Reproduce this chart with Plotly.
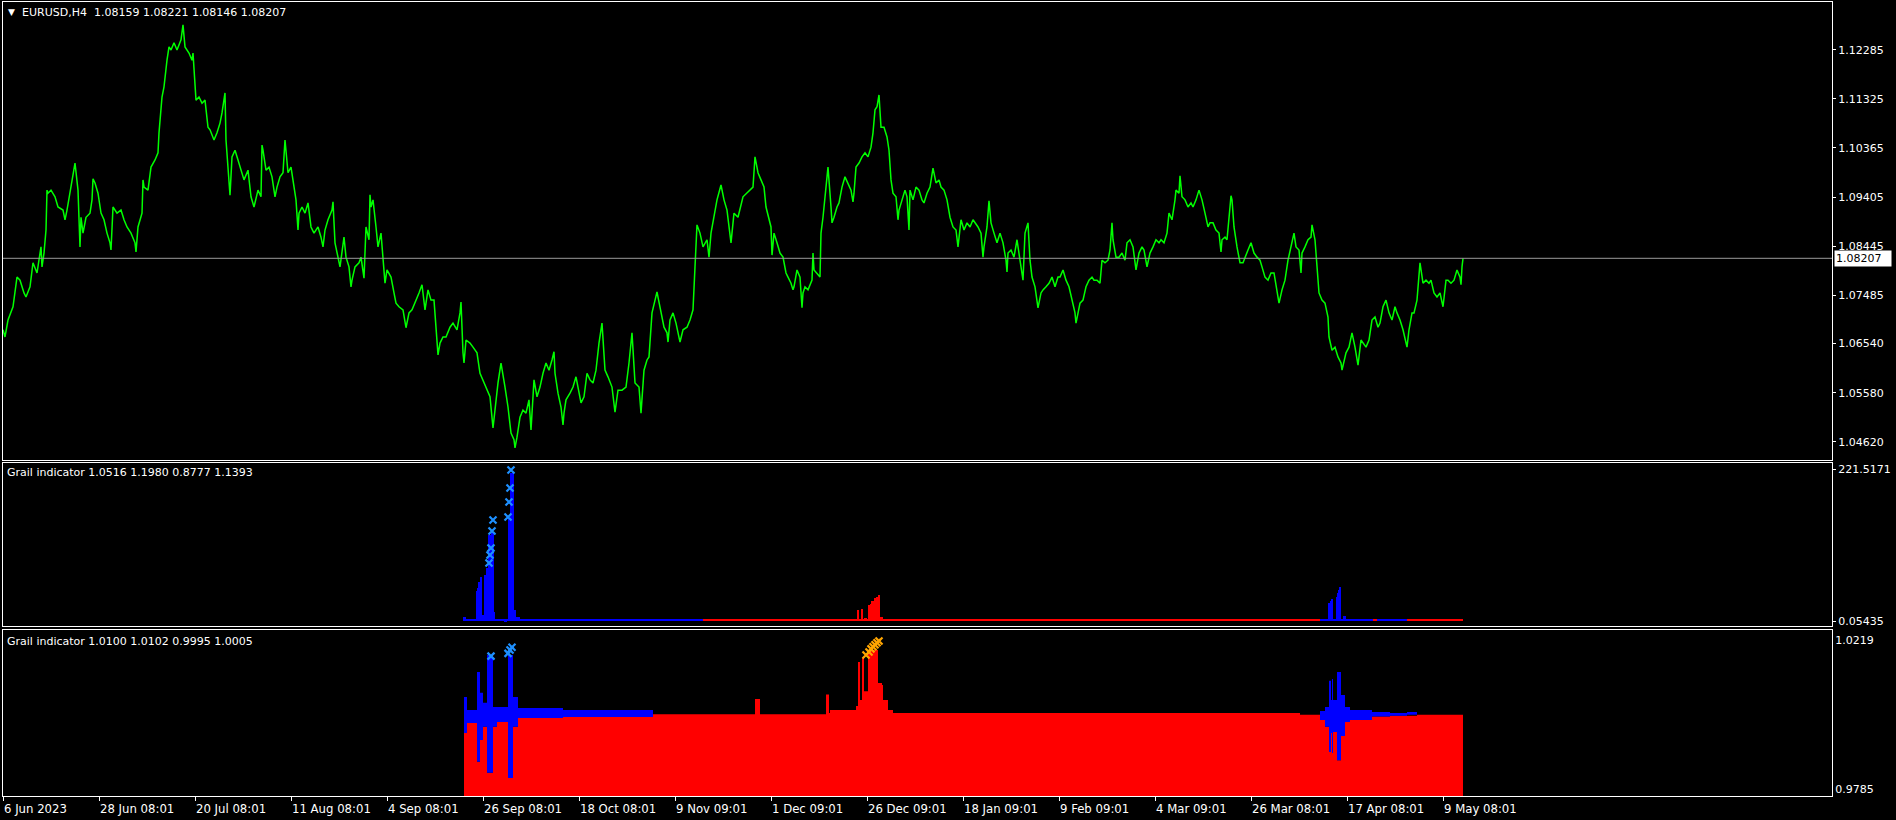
import plotly.graph_objects as go

# ---------------- data ----------------
symbol_header = "EURUSD,H4  1.08159 1.08221 1.08146 1.08207"
ind1_header = "Grail indicator 1.0516 1.1980 0.8777 1.1393"
ind2_header = "Grail indicator 1.0100 1.0102 0.9995 1.0005"
last_price = 1.08207

# bar index (H4 bars) and close prices
price_bar = [0,5,10,14,17,21,23,27,30,34,38,41,43,45,48,52,55,60,64,68,71,72,75,78,80,83,87,89,92,95,98,101,104,107,110,114,118,121,124,128,132,135,139,141,145,148,152,155,156,159,161,164,166,168,171,174,178,180,182,186,189,190,193,196,199,202,205,207,211,214,217,219,222,223,226,229,232,235,238,241,245,248,251,255,258,260,263,266,269,272,274,277,280,282,285,288,291,293,296,299,302,305,308,311,315,318,322,325,329,332,335,337,341,343,346,349,352,356,358,361,363,366,368,370,373,375,378,381,384,388,391,393,396,400,403,406,409,412,416,419,422,425,428,431,434,437,440,443,447,450,454,457,460,463,467,470,474,477,480,483,487,490,493,495,499,502,505,508,511,514,517,520,523,526,528,531,534,537,540,543,546,549,552,555,558,561,563,567,570,573,576,578,581,584,587,590,593,596,599,602,605,609,612,615,619,623,626,629,632,636,638,641,644,646,649,652,655,658,661,664,667,670,673,677,680,684,687,690,692,694,697,700,704,708,711,714,718,721,724,728,731,735,
             740,744,747,750,752,755,758,761,763,766,768,771,774,777,780,783,785,788,791,794,797,800,802,805,809,811,814,817,818,820,823,825,828,831,834,836,839,842,845,848,851,853,856,859,862,865,868,870,872,874,876,878,881,884,886,888,890,893,896,899,902,904,907,910,913,916,919,921,924,927,930,933,936,938,941,944,947,950,953,955,958,961,964,967,970,972,975,978,981,984,986,988,991,994,997,1000,1003,1005,1008,1011,1014,1017,1020,1022,1025,1027,1029,1032,1035,1038,1040,1043,1046,1049,1052,1055,1057,1060,1063,1066,1069,1072,1074,1077,1080,1083,1086,1089,1091,1094,1097,1099,1102,1105,1107,1110,1113,1116,1119,1122,1124,1127,1130,1133,1136,1139,1141,1144,1147,1150,1153,1156,1158,1161,1164,1166,1169,1172,1173,1176,1179,1182,1185,1188,1190,1193,1196,1199,1202,1205,1207,1210,1213,1216,1219,1222,1224,1227,1229,1231,1234,1237,1240,1242,1245,1248,1251,1254,1257,1259,1262,1265,1268,1271,1274,1276,1279,1282,1285,1288,1291,1293,1296,1299,1302,1305,1308,1309,1312,1314,1316,1319,1322,1325,1326,1329,1332,1335,1338,1341,1343,1346,1349,1352,1355,1358,1360,1363,1366,1369,1372,1375,1377,1380,1383,1386,1389,1392,1394,1397,1400,1403,1406,1409,1411,1414,1417,1420,1423,1426,1428,1431,1434,1437,1440,1443,1445,1448,1451,1454,1457,1459,1460]
price_close = [1.0681,1.0700,1.0726,1.0784,1.0778,1.0753,1.0745,1.0765,1.0812,1.0792,1.0843,1.0831,1.0876,1.0948,1.0954,1.0941,1.0921,1.0915,1.0915,1.0960,1.0993,1.1007,1.0954,1.0901,1.0870,1.0901,1.0909,1.0935,1.0968,1.0948,1.0909,1.0896,1.0870,1.0851,1.0921,1.0909,1.0915,1.0896,1.0882,1.0870,1.0851,1.0882,1.0909,1.0960,1.0954,1.0999,1.1013,1.1027,1.1066,1.1136,1.1156,1.1208,1.1234,1.1228,1.1242,1.1228,1.1248,1.1267,1.1234,1.1222,1.1208,1.1222,1.1130,1.1136,1.1124,1.1130,1.1077,1.1072,1.1052,1.1066,1.1085,1.1105,1.1144,1.1052,1.0974,1.1019,1.1032,1.1013,1.0993,1.0974,1.0993,1.0941,1.0921,1.0954,1.0941,1.1032,1.0993,1.0999,1.0980,1.0941,1.0960,1.0980,1.0988,1.1052,1.0988,1.0999,1.0954,1.0935,1.0909,1.0921,1.0909,1.0929,1.0882,1.0870,1.0882,1.0862,1.0876,1.0896,1.0915,1.0851,1.0823,1.0817,1.0862,1.0823,1.0804,1.0778,1.0804,1.0812,1.0823,1.0798,1.0882,1.0857,1.0921,1.0935,1.0882,1.0843,1.0870,1.0784,1.0798,1.0784,1.0753,1.0733,1.0726,1.0720,1.0700,1.0714,1.0720,1.0733,1.0753,1.0739,1.0720,1.0759,1.0739,1.0739,1.0647,1.0655,1.0667,1.0667,1.0686,1.0694,1.0681,1.0714,1.0636,1.0661,1.0655,1.0647,1.0636,1.0596,1.0583,1.0569,1.0550,1.0510,1.0544,1.0577,1.0602,1.0569,1.0530,1.0479,1.0466,1.0471,1.0510,1.0524,1.0518,1.0544,1.0524,1.0583,1.0550,1.0569,1.0596,1.0616,1.0602,1.0622,1.0596,1.0557,1.0530,1.0518,1.0544,1.0557,1.0569,1.0589,1.0557,1.0538,1.0550,1.0596,1.0583,1.0577,1.0602,1.0655,1.0681,1.0602,1.0589,1.0569,1.0538,1.0563,1.0563,1.0569,1.0616,1.0661,1.0577,1.0569,1.0530,1.0602,1.0622,1.0628,1.0714,1.0739,1.0745,1.0714,1.0686,1.0675,1.0700,1.0714,1.0694,1.0667,1.0681,1.0686,1.0700,1.0720,1.0804,1.0876,1.0870,1.0843,1.0857,1.0870,1.0901,1.0935,1.0954,1.0935,1.0915,1.0896,1.0909,1.0901,
               1.0941,1.0948,1.0954,1.0960,1.1007,1.0988,1.0974,1.0960,1.0921,1.0896,1.0882,1.0870,1.0851,1.0831,1.0823,1.0792,1.0784,1.0772,1.0765,1.0798,1.0784,1.0753,1.0765,1.0759,1.0778,1.0798,1.0792,1.0784,1.0870,1.0901,1.0960,1.0999,1.0921,1.0901,1.0921,1.0929,1.0960,1.0980,1.0968,1.0954,1.0948,1.0999,1.1007,1.1019,1.1027,1.1019,1.1038,1.1066,1.1111,1.1117,1.1130,1.1077,1.1077,1.1058,1.1032,1.0974,1.0948,1.0941,1.0915,1.0935,1.0954,1.0941,1.0954,1.0935,1.0960,1.0954,1.0935,1.0929,1.0948,1.0960,1.0988,1.0968,1.0974,1.0960,1.0954,1.0935,1.0901,1.0882,1.0876,1.0862,1.0896,1.0876,1.0890,1.0882,1.0896,1.0890,1.0882,1.0870,1.0843,1.0882,1.0921,1.0890,1.0870,1.0851,1.0870,1.0851,1.0817,1.0831,1.0837,1.0823,1.0857,1.0817,1.0798,1.0870,1.0890,1.0817,1.0784,1.0765,1.0739,1.0753,1.0759,1.0765,1.0772,1.0784,1.0765,1.0784,1.0784,1.0798,1.0778,1.0765,1.0739,1.0714,1.0706,1.0733,1.0739,1.0765,1.0778,1.0784,1.0778,1.0778,1.0772,1.0817,1.0812,1.0817,1.0837,1.0857,1.0823,1.0823,1.0831,1.0817,1.0851,1.0857,1.0843,1.0817,1.0831,1.0843,1.0837,1.0804,1.0831,1.0843,1.0857,1.0851,1.0857,1.0851,1.0870,1.0909,1.0896,1.0935,1.0954,1.0948,1.0941,1.0935,1.0921,1.0929,1.0921,1.0935,1.0954,1.0935,1.0909,1.0882,1.0890,1.0890,1.0876,1.0870,1.0857,1.0862,1.0857,1.0921,1.0935,1.0882,1.0843,1.0812,1.0812,1.0823,1.0837,1.0851,1.0831,1.0823,1.0817,1.0804,1.0784,1.0778,1.0792,1.0792,1.0753,1.0733,1.0759,1.0778,1.0817,1.0843,1.0870,1.0843,1.0837,1.0831,1.0843,1.0857,1.0862,1.0876,1.0857,1.0798,1.0753,1.0739,1.0733,1.0706,1.0667,1.0641,1.0647,1.0628,1.0616,1.0622,1.0636,1.0647,1.0675,1.0647,1.0641,1.0661,1.0655,1.0647,1.0661,1.0700,1.0706,1.0686,1.0694,1.0726,1.0739,1.0714,1.0700,1.0726,1.0714,1.0700,1.0681,1.0655,1.0681,1.0714,1.0714,1.0739,1.0778,1.0772,1.0778,1.0772,1.0778,1.0753,1.0745,1.0753,1.0759,1.0778,1.0778,1.0772,1.0778,1.0798,1.0784,1.0804,1.08207]

# short-lived spikes (wicks of the close line); same bar replaces the value above
spike_bar = [2,39,44,62,77,90,108,133,140,180,227,259,295,320,330,337,348,361,367,382,403,419,435,458,461,490,498,512,528,551,560,599,612,629,638,654,665,677,694,706,718,728,
             752,769,790,799,810,829,850,876,895,906,930,955,980,986,1004,1020,1035,1073,1109,1133,1177,1218,1228,1298,1309,1339,1355,1404,1417,1440,1458]
spike_close = [1.0667,1.0804,1.0954,1.0896,1.0843,1.0976,1.0837,1.0833,1.0974,1.1277,1.0944,1.1042,1.0876,1.0843,1.0931,1.0804,1.0765,1.0782,1.0945,1.0772,1.0685,1.0769,1.0632,1.0735,1.0616,1.0489,1.0616,1.0450,1.0485,1.0638,1.0495,1.0694,1.0520,1.0675,1.0518,1.0755,1.0657,1.0657,1.0886,1.0823,1.0964,1.0851,
               1.1019,1.0827,1.0759,1.0724,1.0831,1.0890,1.0931,1.1140,1.0896,1.0876,1.0997,1.0843,1.0823,1.0933,1.0794,1.0778,1.0724,1.0694,1.0890,1.0798,1.0982,1.0833,1.0943,1.0792,1.0886,1.0602,1.0612,1.0647,1.0812,1.0726,1.0769]

price_ticks = [1.12285,1.11325,1.10365,1.09405,1.08445,1.07485,1.06540,1.05580,1.04620]

time_tick_bar = [0,96,192,288,384,480,576,672,768,864,960,1056,1152,1248,1344,1440]
time_tick_text = ["6 Jun 2023","28 Jun 08:01","20 Jul 08:01","11 Aug 08:01","4 Sep 08:01","26 Sep 08:01",
                  "18 Oct 08:01","9 Nov 09:01","1 Dec 09:01","26 Dec 09:01","18 Jan 09:01","9 Feb 09:01",
                  "4 Mar 09:01","26 Mar 08:01","17 Apr 08:01","9 May 08:01"]

# indicator window 1 (histograms)
ind1_max, ind1_min = 221.5171, 0.05435
ind1_blue_bar = [461,462,465,467,470,473,474,475,476,477,478,479,480,482,483,484,485,486,487,488,489,490,491,492,493,494,502,503,506,507,508,509,510,511,512,513,514,515,516,
                 1326,1327,1328,1329,1334,1335,1336,1337,1341,1342]
ind1_blue_val = [5.9,5.9,3,3,3,3,43.8,48,56.8,8.8,64,8.8,8.8,67,8.8,77,77,125,125,125,130,130,13,3,3,3,2,2,150,150,215.7,215.7,215.7,16,16,5.9,5.9,5.9,5.9,
                 26,26,29,32,35,40.8,45,49.6,7.3,7.3]
ind1_red_bar = [855,859,862,863,866,868,869,870,871,872,873,874,876,877,878,879]
ind1_red_val = [16,17.5,4.4,4.4,23,24.8,29,29,29,33.5,33.5,35,37.9,5.9,5.9,5.9]
ind1_cross_bar = [486,487,488,489,490,505,506,507,508]
ind1_cross_val = [84.6,96.2,106.4,131.2,147.2,151.6,173.4,193.8,220.1]
ind1_base_level = 1.5
ind1_base_seg_start = [461,700,1317,1370,1374,1404]
ind1_base_seg_end = [700,1317,1370,1374,1404,1460]
ind1_base_seg_col = ["blue","red","blue","red","blue","red"]

# indicator window 2
ind2_max, ind2_min = 1.0219, 0.9785
ind2_red_bar = [461,464,474,477,480,484,490,494,505,510,515,560,650,752,757,823,826,827,853,855,857,859,861,865,875,879,880,885,890,1297,1317,1322,1326,1328,1329,1330,1334,1338,1342,1347,1369,1387,1414,1460]
ind2_red_val = [0.9948,0.9977,0.9864,0.9928,0.9966,0.9832,0.9966,0.9980,0.9817,0.9966,0.9992,0.9995,1.0003,1.0047,1.0003,1.0060,1.0006,1.0015,1.0027,1.0155,1.0044,1.0167,1.0070,1.0190,1.0094,1.0088,1.0044,1.0015,1.0006,1.0001,0.9986,0.9966,0.9893,0.9948,0.9890,0.9951,0.9869,0.9939,0.9980,0.9986,0.9996,0.9998,1.0001,1.0001]
ind2_blue_bar = [461,464,474,477,480,484,490,494,505,510,515,560,650,1317,1322,1326,1328,1329,1330,1334,1338,1342,1347,1369,1387,1404,1414]
ind2_blue_lo = [0.9948,0.9977,0.9864,0.9928,0.9966,0.9832,0.9966,0.9980,0.9817,0.9966,0.9992,0.9995,1.0003,0.9986,0.9966,0.9893,0.9948,0.9890,0.9951,0.9869,0.9939,0.9980,0.9986,0.9996,0.9998,1.0001,1.0001]
ind2_blue_hi = [1.0053,1.0015,1.0126,1.0065,1.0036,1.0175,1.0024,1.0024,1.0175,1.0053,1.0021,1.0015,1.0003,1.0012,1.0024,1.0100,1.0044,1.0105,1.0044,1.0126,1.0059,1.0024,1.0015,1.0009,1.0006,1.0009,1.0001]
ind2_bcross_bar = [488,505,507,509]
ind2_bcross_val = [1.0172,1.0180,1.0190,1.0198]
ind2_ocross_bar = [863,866,868,870,872,874,876]
ind2_ocross_val = [1.0175,1.0184,1.0193,1.0199,1.0205,1.0211,1.0216]

# merge spikes into the close series
_series = dict(zip(price_bar, price_close))
_series.update(dict(zip(spike_bar, spike_close)))
line_bar = sorted(_series)
line_close = [_series[b] for b in line_bar]

# ---------------- layout helpers ----------------
W, H = 1896, 820
def fy(p):  # pixel row -> paper y
    return 1 - p / H
XDOM = [3 / W, 1832 / W]
XR = [0, 1829]
FONT = "DejaVu Sans, Verdana, sans-serif"
COND = "DejaVu Sans Condensed, Liberation Sans Narrow, DejaVu Sans, sans-serif"
RED, BLUE, XBLUE, ORANGE = "#ff0000", "#0000ff", "#1e90ff", "#ffa500"

fig = go.Figure()

# main price
fig.add_trace(go.Scatter(x=line_bar, y=line_close, mode="lines", line=dict(color="#00ff00", width=1.5),
                         xaxis="x", yaxis="y", hoverinfo="skip"))

# window 1
for s, e, c in zip(ind1_base_seg_start, ind1_base_seg_end, ind1_base_seg_col):
    fig.add_trace(go.Scatter(x=[s, e], y=[ind1_base_level, ind1_base_level], mode="lines",
                             line=dict(color=BLUE if c == "blue" else RED, width=2), xaxis="x2", yaxis="y2"))
fig.add_trace(go.Bar(x=ind1_blue_bar, y=ind1_blue_val, width=1, marker=dict(color=BLUE, line=dict(width=0)),
                     xaxis="x2", yaxis="y2"))
fig.add_trace(go.Bar(x=ind1_red_bar, y=ind1_red_val, width=1, marker=dict(color=RED, line=dict(width=0)),
                     xaxis="x2", yaxis="y2"))
fig.add_trace(go.Scatter(x=ind1_cross_bar, y=ind1_cross_val, mode="markers",
                         marker=dict(symbol="x-thin", size=7, line=dict(color=XBLUE, width=2.2)),
                         xaxis="x2", yaxis="y2"))

# window 2
fig.add_trace(go.Scatter(x=ind2_red_bar, y=ind2_red_val, mode="lines", line=dict(color=RED, width=0, shape="hv"),
                         fill="tozeroy", fillcolor=RED, xaxis="x3", yaxis="y3"))
fig.add_trace(go.Scatter(x=ind2_blue_bar, y=ind2_blue_lo, mode="lines", line=dict(color=BLUE, width=0, shape="hv"),
                         xaxis="x3", yaxis="y3"))
fig.add_trace(go.Scatter(x=ind2_blue_bar, y=ind2_blue_hi, mode="lines", line=dict(color=BLUE, width=0, shape="hv"),
                         fill="tonexty", fillcolor=BLUE, xaxis="x3", yaxis="y3"))
fig.add_trace(go.Scatter(x=ind2_bcross_bar, y=ind2_bcross_val, mode="markers",
                         marker=dict(symbol="x-thin", size=7, line=dict(color=XBLUE, width=2.2)),
                         xaxis="x3", yaxis="y3"))
fig.add_trace(go.Scatter(x=ind2_ocross_bar, y=ind2_ocross_val, mode="markers",
                         marker=dict(symbol="x-thin", size=7, line=dict(color=ORANGE, width=2.2)),
                         xaxis="x3", yaxis="y3"))

axis_common = dict(showgrid=False, zeroline=False, showline=True, mirror=True, linecolor="#ffffff", linewidth=1)
xcommon = dict(axis_common, range=XR, domain=XDOM, showticklabels=False, ticks="")
yfont = dict(family=FONT, size=11, color="#ffffff")

fig.update_layout(
    width=W, height=H, margin=dict(l=0, r=0, t=0, b=0, autoexpand=False),
    paper_bgcolor="#000000", plot_bgcolor="#000000", showlegend=False, bargap=0,
    font=dict(family=FONT, size=11, color="#ffffff"),
    xaxis=dict(xcommon, anchor="y"),
    xaxis2=dict(xcommon, anchor="y2", matches="x"),
    xaxis3=dict(xcommon, anchor="y3", matches="x", ticks="outside", ticklen=4, tickcolor="#ffffff",
                tickvals=time_tick_bar),
    yaxis=dict(axis_common, domain=[fy(460), fy(2)], range=[1.04264, 1.13218], side="right", anchor="x",
               tickvals=price_ticks, ticktext=[f"{v:.5f}" for v in price_ticks], ticks="outside", ticklen=3,
               tickcolor="#ffffff", tickfont=yfont, automargin=False),
    yaxis2=dict(axis_common, domain=[fy(626), fy(463)], range=[-7.23, 230.3], side="right", anchor="x2",
                tickvals=[ind1_max, ind1_min], ticktext=["221.5171", "0.05435"], ticks="outside", ticklen=3,
                tickcolor="#ffffff", tickfont=yfont, automargin=False),
    yaxis3=dict(axis_common, domain=[fy(796), fy(630)], range=[0.97646, 1.0248], side="right", anchor="x3",
                tickvals=[ind2_max, ind2_min], ticktext=["1.0219", "0.9785"], ticks="outside", ticklen=0,
                tickcolor="#ffffff", tickfont=yfont, automargin=False),
)

# current price line and label
fig.add_shape(type="line", xref="x", yref="y", x0=XR[0], x1=XR[1], y0=last_price, y1=last_price,
              line=dict(color="#9a9a9a", width=1))
fig.add_annotation(xref="paper", yref="y", x=1834 / W, y=last_price, xanchor="left", yanchor="middle",
                   text=f"{last_price:.5f}", showarrow=False, bgcolor="#ffffff", borderpad=1, width=54, align="left",
                   font=dict(family=FONT, size=11, color="#000000"))

# headers
hfont = dict(family=FONT, size=11, color="#ffffff")
fig.add_annotation(xref="paper", yref="paper", x=6 / W, y=fy(12), xanchor="left", yanchor="middle",
                   text="▼", showarrow=False, font=dict(family=FONT, size=9, color="#ffffff"))
fig.add_annotation(xref="paper", yref="paper", x=20 / W, y=fy(12), xanchor="left", yanchor="middle",
                   text=symbol_header.replace(" ", "&nbsp;"), showarrow=False, font=hfont)
fig.add_annotation(xref="paper", yref="paper", x=5 / W, y=fy(473), xanchor="left", yanchor="middle",
                   text=ind1_header, showarrow=False, font=hfont)
fig.add_annotation(xref="paper", yref="paper", x=5 / W, y=fy(641), xanchor="left", yanchor="middle",
                   text=ind2_header, showarrow=False, font=hfont)

# time labels
for b, t in zip(time_tick_bar, time_tick_text):
    fig.add_annotation(xref="x3", yref="paper", x=b, y=fy(808), xanchor="left", yanchor="middle", xshift=-1,
                       text=t, showarrow=False, font=dict(family=COND, size=13, color="#ffffff"))

fig.write_html("out.html", config={"displayModeBar": False},
               post_script="document.body.style.margin='0';document.body.style.background='#000';document.body.style.overflow='hidden';")
